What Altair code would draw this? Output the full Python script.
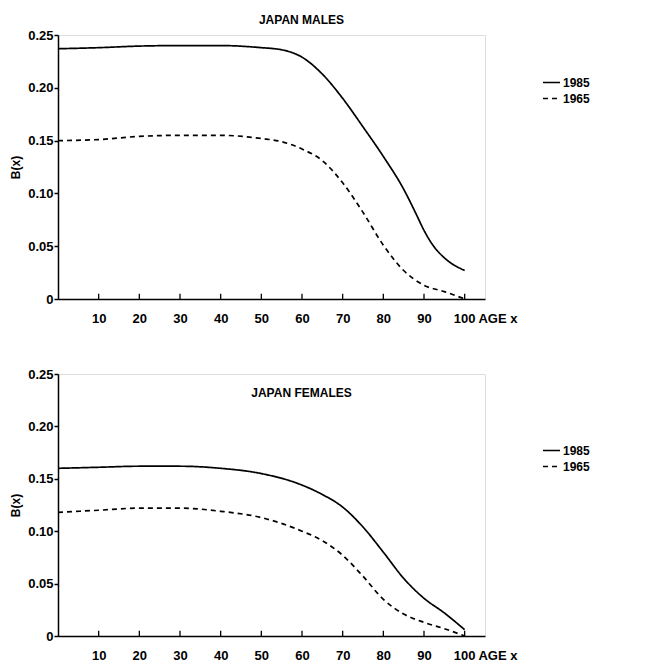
import altair as alt
import pandas as pd

FONT = "Liberation Sans"

# ---- data ----
ages_m85 = [0, 10, 20, 30, 40, 50, 55, 60, 65, 70, 75, 80, 85, 88, 90, 92, 95, 100]
male_1985 = [0.237, 0.238, 0.2395, 0.240, 0.240, 0.238, 0.236, 0.229, 0.213, 0.190,
             0.163, 0.135, 0.104, 0.081, 0.065, 0.052, 0.039, 0.027]
ages_m65 = [0, 10, 20, 30, 40, 50, 55, 60, 65, 70, 75, 80, 85, 90, 95, 100]
male_1965 = [0.150, 0.151, 0.154, 0.155, 0.155, 0.152, 0.149, 0.142, 0.131, 0.110,
             0.082, 0.051, 0.027, 0.013, 0.007, 0.000]

ages_f = [0, 10, 20, 30, 40, 50, 60, 65, 70, 75, 80, 85, 90, 95, 100]
female_1985 = [0.160, 0.161, 0.162, 0.162, 0.160, 0.155, 0.144, 0.135, 0.123, 0.104,
               0.080, 0.055, 0.036, 0.022, 0.006]
female_1965 = [0.118, 0.120, 0.122, 0.122, 0.119, 0.113, 0.100, 0.091, 0.077, 0.057,
               0.035, 0.021, 0.013, 0.007, 0.000]

years = ["1985", "1965"]
x_ticks = [10, 20, 30, 40, 50, 60, 70, 80, 90, 100]
y_ticks = [0, 0.05, 0.10, 0.15, 0.20, 0.25]
end_label = ["100 AGE x"]


def frame(ages, vals, year):
    return pd.DataFrame({"age": ages, "value": vals, "year": year})


X_AXIS = alt.Axis(values=x_ticks, ticks=False, grid=False, title=None,
                  domainColor="black", domainWidth=1.5,
                  labelExpr="datum.value == 100 ? '' : datum.label",
                  labelFont=FONT, labelFontSize=13, labelFontWeight="bold",
                  labelColor="black", labelPadding=13)
Y_AXIS = alt.Axis(values=y_ticks, grid=False, tickSize=4, tickColor="black",
                  tickWidth=1.5, domainColor="black", domainWidth=1.5,
                  labelExpr="datum.value == 0 ? '0' : format(datum.value, '.2f')",
                  labelFont=FONT, labelFontSize=13, labelFontWeight="bold",
                  labelColor="black", labelPadding=1,
                  title="B(x)", titleFont=FONT, titleFontSize=12,
                  titleFontWeight="bold", titleColor="black", titlePadding=5)
X_SCALE = alt.Scale(domain=[0, 105], nice=False, zero=False)
Y_SCALE = alt.Scale(domain=[0, 0.25], nice=False)


def panel(df, title, legend_y, height):
    lines = alt.Chart(df).mark_line(
        color="black", strokeWidth=1.7, interpolate="monotone"
    ).encode(
        x=alt.X("age:Q", scale=X_SCALE, axis=X_AXIS),
        y=alt.Y("value:Q", scale=Y_SCALE, axis=Y_AXIS),
        strokeDash=alt.StrokeDash(
            "year:N",
            scale=alt.Scale(domain=years, range=[[1, 0], [5, 4]]),
            legend=alt.Legend(title=None, orient="none", legendX=484,
                              legendY=legend_y, symbolType="stroke",
                              symbolSize=289, symbolStrokeWidth=1.7,
                              symbolStrokeColor="black", labelFont=FONT,
                              labelFontSize=12, labelFontWeight="bold",
                              labelColor="black", rowPadding=-2, labelOffset=2),
        ),
    )
    ticks = alt.Chart(pd.DataFrame({"age": x_ticks})).mark_rule(
        color="black", strokeWidth=1.3
    ).encode(
        x=alt.X("age:Q", scale=X_SCALE, axis=X_AXIS),
        y=alt.datum(0, scale=Y_SCALE, axis=Y_AXIS),
        y2=alt.datum(0.005),
    )
    end = alt.Chart(pd.DataFrame({"age": [100], "value": [0], "label": end_label})).mark_text(
        align="left", baseline="top", dx=-11, dy=14, font=FONT, fontSize=13,
        fontWeight="bold", color="black"
    ).encode(
        x=alt.X("age:Q", scale=X_SCALE, axis=X_AXIS),
        y=alt.Y("value:Q", scale=Y_SCALE, axis=Y_AXIS),
        text="label:N",
    )
    return alt.layer(lines, ticks, end).properties(width=427, height=height, title=title)


top_df = pd.concat([frame(ages_m85, male_1985, "1985"), frame(ages_m65, male_1965, "1965")])
bot_df = pd.concat([frame(ages_f, female_1985, "1985"), frame(ages_f, female_1965, "1965")])

t_top = alt.TitleParams("JAPAN MALES", font=FONT, fontSize=12, fontWeight="bold",
                        color="black", anchor="middle", dx=30, offset=2)
t_bot = alt.TitleParams("JAPAN FEMALES", font=FONT, fontSize=12, fontWeight="bold",
                        color="black", anchor="middle", dx=30, offset=-32)

chart = alt.vconcat(
    panel(top_df, t_top, 38, 264),
    panel(bot_df, t_bot, 67, 262),
    spacing=40,
).resolve_scale(strokeDash="independent", x="independent", y="independent").resolve_legend(
    strokeDash="independent"
).configure_view(stroke=None).configure(padding={"left": 1, "top": 5, "right": 5, "bottom": 2})

chart.save("out.html", embed_options={"renderer": "svg", "actions": False})
